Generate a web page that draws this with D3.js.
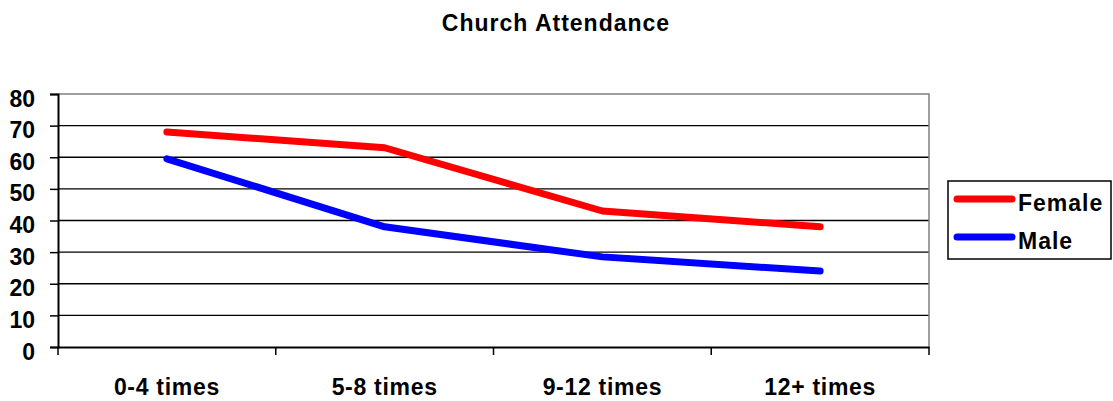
<!DOCTYPE html>
<html>
<head>
<meta charset="utf-8">
<script src="https://cdnjs.cloudflare.com/ajax/libs/d3/7.8.5/d3.min.js"></script>
<style>
body { margin: 0; background: #fff; }
svg { font-family: "Liberation Sans", Arial, sans-serif; font-weight: bold; }
</style>
</head>
<body>
<svg id="chart" width="1113" height="401"></svg>
<script>
var categories = ["0-4 times", "5-8 times", "9-12 times", "12+ times"];
var female = [68, 63, 43, 38];
var male = [59.5, 38, 28.5, 24];
var yTicks = [0, 10, 20, 30, 40, 50, 60, 70, 80];
var seriesNames = ["Female", "Male"];
var seriesColors = ["#ff0000", "#0000ff"];

var svg = d3.select("#chart");
var plotL = 58, plotR = 929, plotT = 94, plotB = 347;

var x = d3.scaleBand().domain(categories).range([plotL, plotR]);
var y = d3.scaleLinear().domain([0, 80]).range([plotB, plotT]);

svg.append("text")
  .attr("x", 556).attr("y", 31)
  .attr("text-anchor", "middle")
  .style("font-size", "23px")
  .style("letter-spacing", "1px")
  .text("Church Attendance");

// gridlines
svg.append("g").selectAll("line")
  .data(yTicks.filter(function(d) { return d > 0 && d < 80; }))
  .enter().append("line")
  .attr("x1", plotL).attr("x2", plotR)
  .attr("y1", function(d) { return y(d); })
  .attr("y2", function(d) { return y(d); })
  .attr("stroke", "#000").attr("stroke-width", 1.3);

// plot border top/right
svg.append("path")
  .attr("d", "M" + plotL + "," + plotT + "H" + plotR + "V" + plotB)
  .attr("fill", "none").attr("stroke", "#808080").attr("stroke-width", 1.5);

var yAxis = svg.append("g")
  .attr("transform", "translate(" + plotL + ",0)")
  .call(d3.axisLeft(y).tickValues(yTicks).tickSize(8).tickPadding(15));
yAxis.select(".domain").attr("stroke-width", 2);
yAxis.selectAll(".tick line").attr("stroke-width", 1.5);
yAxis.selectAll("text")
  .attr("dy", "12px")
  .style("font-size", "23px").style("font-family", "Liberation Sans, Arial, sans-serif")
  .style("font-weight", "bold").attr("fill", "#000");

var xAxis = svg.append("g")
  .attr("transform", "translate(0," + plotB + ")")
  .call(d3.axisBottom(x).tickSize(0).tickPadding(0));
xAxis.select(".domain").attr("stroke-width", 2);
xAxis.selectAll("text").attr("y", 48).attr("dy", 0)
  .style("font-size", "23px").style("font-family", "Liberation Sans, Arial, sans-serif")
  .style("font-weight", "bold").style("letter-spacing", "0.7px").attr("fill", "#000");
// boundary ticks between categories
xAxis.selectAll(".bound").data(d3.range(categories.length + 1)).enter().append("line")
  .attr("x1", function(i) { return plotL + i * x.step(); })
  .attr("x2", function(i) { return plotL + i * x.step(); })
  .attr("y1", 0).attr("y2", 8)
  .attr("stroke", "#000").attr("stroke-width", 1.5);

var line = d3.line()
  .x(function(d, i) { return x(categories[i]) + x.bandwidth() / 2; })
  .y(function(d) { return y(d); });

[female, male].forEach(function(s, k) {
  svg.append("path")
    .datum(s)
    .attr("d", line)
    .attr("fill", "none")
    .attr("stroke", seriesColors[k])
    .attr("stroke-width", 7)
    .attr("stroke-linecap", "round")
    .attr("stroke-linejoin", "round");
});

// legend
var lg = svg.append("g");
lg.append("rect")
  .attr("x", 948).attr("y", 181).attr("width", 163).attr("height", 78)
  .attr("fill", "#fff").attr("stroke", "#000").attr("stroke-width", 1.5);
seriesNames.forEach(function(n, k) {
  var yy = 199 + k * 38;
  lg.append("line")
    .attr("x1", 957).attr("x2", 1012).attr("y1", yy).attr("y2", yy)
    .attr("stroke", seriesColors[k]).attr("stroke-width", 7).attr("stroke-linecap", "round");
  lg.append("text")
    .attr("x", 1018).attr("y", yy + 12)
    .style("font-size", "23px")
    .style("letter-spacing", "1px")
    .text(n);
});
</script>
</body>
</html>
